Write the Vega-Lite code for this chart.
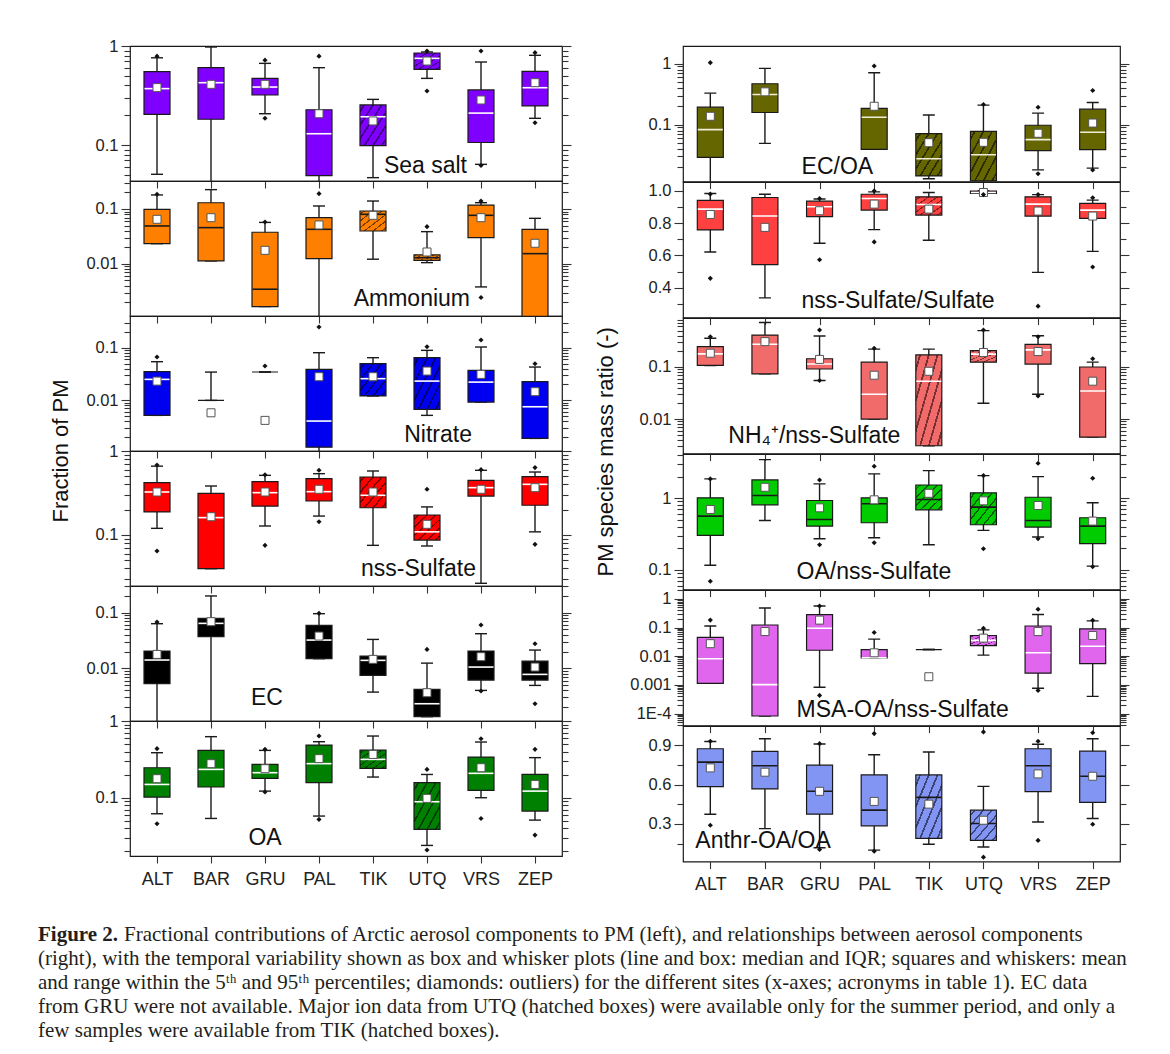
{
"$schema": "https://vega.github.io/schema/vega-lite/v6.json",
"background": "white",
"padding": {"left": 38, "top": 37, "right": 5, "bottom": 5},
"config": {
  "font": "Liberation Sans",
  "view": {"stroke": "#1a1a1a", "strokeWidth": 1.2},
  "axis": {"domain": false, "grid": false, "tickColor": "#333333", "tickWidth": 1.1, "labelColor": "#222222", "labelFontSize": 16.5, "labelFont": "Liberation Sans", "labelPadding": 3},
  "tick": {"opacity": 1},
  "point": {"opacity": 1}
},
"datasets": {
"box": [
{"p":"ss","s":"ALT","lo":0.0506,"q1":0.204,"md":0.371,"q3":0.55,"hi":0.76,"mn":0.38},
{"p":"ss","s":"BAR","lo":0.02,"q1":0.182,"md":0.426,"q3":0.604,"hi":0.977,"mn":0.41},
{"p":"ss","s":"GRU","lo":0.207,"q1":0.32,"md":0.385,"q3":0.471,"hi":0.668,"mn":0.41},
{"p":"ss","s":"PAL","lo":0.02,"q1":0.049,"md":0.13,"q3":0.227,"hi":0.604,"mn":0.207},
{"p":"ss","s":"TIK","lo":0.0468,"q1":0.0984,"md":0.193,"q3":0.254,"hi":0.289,"mn":0.175,"h":1},
{"p":"ss","s":"UTQ","lo":0.471,"q1":0.581,"md":0.75,"q3":0.85,"hi":0.87,"mn":0.705,"h":1},
{"p":"ss","s":"VRS","lo":0.0638,"q1":0.106,"md":0.21,"q3":0.36,"hi":0.689,"mn":0.285},
{"p":"ss","s":"ZEP","lo":0.186,"q1":0.248,"md":0.379,"q3":0.555,"hi":0.805,"mn":0.426},
{"p":"am","s":"ALT","lo":0.0234,"q1":0.0234,"md":0.0491,"q3":0.0986,"hi":0.18,"mn":0.0649},
{"p":"am","s":"BAR","lo":0.01135,"q1":0.01135,"md":0.0458,"q3":0.13,"hi":0.225,"mn":0.0695},
{"p":"am","s":"GRU","lo":0.00168,"q1":0.00168,"md":0.00347,"q3":0.0377,"hi":0.057,"mn":0.0177},
{"p":"am","s":"PAL","lo":0.0005,"q1":0.0125,"md":0.0427,"q3":0.0695,"hi":0.1134,"mn":0.0512},
{"p":"am","s":"TIK","lo":0.0122,"q1":0.0398,"md":0.08,"q3":0.092,"hi":0.1396,"mn":0.0767,"h":1},
{"p":"am","s":"UTQ","lo":0.01057,"q1":0.01166,"md":0.013,"q3":0.0146,"hi":0.0387,"mn":0.0165,"h":1},
{"p":"am","s":"VRS","lo":0.00382,"q1":0.0302,"md":0.0767,"q3":0.118,"hi":0.13,"mn":0.0695},
{"p":"am","s":"ZEP","lo":0.0005,"q1":0.0005,"md":0.0154,"q3":0.0427,"hi":0.0676,"mn":0.0238},
{"p":"ni","s":"ALT","lo":0.00518,"q1":0.00518,"md":0.025,"q3":0.035,"hi":0.0542,"mn":0.0232},
{"p":"ni","s":"BAR","lo":0.00997,"q1":0.00997,"md":null,"q3":0.00997,"hi":0.0344,"mn":0.0058},
{"p":"ni","s":"GRU","lo":0.0345,"q1":0.0345,"md":null,"q3":0.0345,"hi":0.0345,"mn":0.00416},
{"p":"ni","s":"PAL","lo":0.0005,"q1":0.00129,"md":0.00404,"q3":0.0387,"hi":0.0803,"mn":0.0281},
{"p":"ni","s":"TIK","lo":0.0121,"q1":0.0121,"md":0.0258,"q3":0.0497,"hi":0.0646,"mn":0.0281,"h":1},
{"p":"ni","s":"UTQ","lo":0.00518,"q1":0.00673,"md":0.0232,"q3":0.0646,"hi":0.089,"mn":0.036,"h":1},
{"p":"ni","s":"VRS","lo":0.00927,"q1":0.00927,"md":0.0222,"q3":0.037,"hi":0.103,"mn":0.0311},
{"p":"ni","s":"ZEP","lo":0.00189,"q1":0.00189,"md":0.00755,"q3":0.0226,"hi":0.0429,"mn":0.0146},
{"p":"su","s":"ALT","lo":0.12,"q1":0.188,"md":0.325,"q3":0.42,"hi":0.66,"mn":0.325},
{"p":"su","s":"BAR","lo":0.0397,"q1":0.0397,"md":0.161,"q3":0.313,"hi":0.383,"mn":0.165},
{"p":"su","s":"GRU","lo":0.128,"q1":0.221,"md":0.319,"q3":0.431,"hi":0.513,"mn":0.325},
{"p":"su","s":"PAL","lo":0.168,"q1":0.254,"md":0.328,"q3":0.469,"hi":0.537,"mn":0.35},
{"p":"su","s":"TIK","lo":0.0753,"q1":0.211,"md":0.297,"q3":0.49,"hi":0.578,"mn":0.325,"h":1},
{"p":"su","s":"UTQ","lo":0.074,"q1":0.0871,"md":0.109,"q3":0.173,"hi":0.216,"mn":0.134,"h":1},
{"p":"su","s":"VRS","lo":0.0266,"q1":0.291,"md":0.366,"q3":0.448,"hi":0.589,"mn":0.35},
{"p":"su","s":"ZEP","lo":0.109,"q1":0.226,"md":0.401,"q3":0.495,"hi":0.562,"mn":0.366},
{"p":"ec","s":"ALT","lo":0.0005,"q1":0.00529,"md":0.0141,"q3":0.0205,"hi":0.0634,"mn":0.0178},
{"p":"ec","s":"BAR","lo":0.0005,"q1":0.037,"md":0.0643,"q3":0.079,"hi":0.2,"mn":0.0689},
{"p":"ec","s":"PAL","lo":0.0149,"q1":0.0149,"md":0.0322,"q3":0.0591,"hi":0.096,"mn":0.038},
{"p":"ec","s":"TIK","lo":0.00374,"q1":0.00746,"md":0.0139,"q3":0.0166,"hi":0.0331,"mn":0.0145},
{"p":"ec","s":"UTQ","lo":0.00135,"q1":0.00135,"md":0.00231,"q3":0.00418,"hi":0.0124,"mn":0.00364},
{"p":"ec","s":"VRS","lo":0.00401,"q1":0.00615,"md":0.01054,"q3":0.0205,"hi":0.0419,"mn":0.0162},
{"p":"ec","s":"ZEP","lo":0.00493,"q1":0.00615,"md":0.00778,"q3":0.0135,"hi":0.0213,"mn":0.01054},
{"p":"oa","s":"ALT","lo":0.0618,"q1":0.102,"md":0.149,"q3":0.246,"hi":0.386,"mn":0.177},
{"p":"oa","s":"BAR","lo":0.0537,"q1":0.138,"md":0.234,"q3":0.414,"hi":0.625,"mn":0.278},
{"p":"oa","s":"GRU","lo":0.122,"q1":0.179,"md":0.212,"q3":0.272,"hi":0.414,"mn":0.239},
{"p":"oa","s":"PAL","lo":0.0577,"q1":0.157,"md":0.278,"q3":0.486,"hi":0.537,"mn":0.323},
{"p":"oa","s":"TIK","lo":0.186,"q1":0.241,"md":0.316,"q3":0.418,"hi":0.637,"mn":0.367,"h":1},
{"p":"oa","s":"UTQ","lo":0.0239,"q1":0.0386,"md":0.0887,"q3":0.157,"hi":0.201,"mn":0.098,"h":1},
{"p":"oa","s":"VRS","lo":0.1,"q1":0.125,"md":0.208,"q3":0.339,"hi":0.532,"mn":0.246},
{"p":"oa","s":"ZEP","lo":0.0511,"q1":0.067,"md":0.122,"q3":0.201,"hi":0.333,"mn":0.149},
{"p":"eo","s":"ALT","lo":0.005,"q1":0.029,"md":0.0827,"q3":0.193,"hi":0.328,"mn":0.137},
{"p":"eo","s":"BAR","lo":0.0492,"q1":0.158,"md":0.312,"q3":0.468,"hi":0.838,"mn":0.345},
{"p":"eo","s":"PAL","lo":0.0392,"q1":0.0392,"md":0.132,"q3":0.184,"hi":0.711,"mn":0.2},
{"p":"eo","s":"TIK","lo":0.0129,"q1":0.0144,"md":0.0275,"q3":0.0711,"hi":0.144,"mn":0.0505,"h":1},
{"p":"eo","s":"UTQ","lo":0.005,"q1":0.0119,"md":0.032,"q3":0.0776,"hi":0.209,"mn":0.0512,"h":1},
{"p":"eo","s":"VRS","lo":0.0181,"q1":0.0373,"md":0.0566,"q3":0.0975,"hi":0.154,"mn":0.072},
{"p":"eo","s":"ZEP","lo":0.0193,"q1":0.0387,"md":0.0748,"q3":0.179,"hi":0.231,"mn":0.106},
{"p":"sr","s":"ALT","lo":0.621,"q1":0.758,"md":0.887,"q3":0.941,"hi":0.984,"mn":0.854},
{"p":"sr","s":"BAR","lo":0.337,"q1":0.543,"md":0.844,"q3":0.959,"hi":0.979,"mn":0.774},
{"p":"sr","s":"GRU","lo":0.676,"q1":0.84,"md":0.902,"q3":0.936,"hi":0.95,"mn":0.877},
{"p":"sr","s":"PAL","lo":0.76,"q1":0.881,"md":0.953,"q3":0.979,"hi":0.994,"mn":0.918},
{"p":"sr","s":"TIK","lo":0.694,"q1":0.85,"md":0.916,"q3":0.963,"hi":0.99,"mn":0.887,"h":1},
{"p":"sr","s":"UTQ","lo":0.985,"q1":0.985,"md":0.99,"q3":0.998,"hi":1.0,"mn":0.99,"h":1},
{"p":"sr","s":"VRS","lo":0.495,"q1":0.844,"md":0.918,"q3":0.963,"hi":0.977,"mn":0.875},
{"p":"sr","s":"ZEP","lo":0.625,"q1":0.83,"md":0.881,"q3":0.922,"hi":0.943,"mn":0.844},
{"p":"nh","s":"ALT","lo":0.107,"q1":0.107,"md":0.179,"q3":0.247,"hi":0.356,"mn":0.184},
{"p":"nh","s":"BAR","lo":0.0736,"q1":0.0736,"md":0.273,"q3":0.411,"hi":0.715,"mn":0.307},
{"p":"nh","s":"GRU","lo":0.055,"q1":0.0916,"md":0.114,"q3":0.144,"hi":0.394,"mn":0.14},
{"p":"nh","s":"PAL","lo":0.01,"q1":0.01,"md":0.0299,"q3":0.124,"hi":0.22,"mn":0.0695},
{"p":"nh","s":"TIK","lo":0.00307,"q1":0.00307,"md":0.0534,"q3":0.171,"hi":0.22,"mn":0.0827,"h":1},
{"p":"nh","s":"UTQ","lo":0.0201,"q1":0.124,"md":0.177,"q3":0.207,"hi":0.5,"mn":0.19,"h":1},
{"p":"nh","s":"VRS","lo":0.0299,"q1":0.114,"md":0.213,"q3":0.273,"hi":0.399,"mn":0.198},
{"p":"nh","s":"ZEP","lo":0.00449,"q1":0.00449,"md":0.0345,"q3":0.1,"hi":0.124,"mn":0.0534},
{"p":"on","s":"ALT","lo":0.115,"q1":0.301,"md":0.561,"q3":1.01,"hi":1.86,"mn":0.695},
{"p":"on","s":"BAR","lo":0.488,"q1":0.807,"md":1.09,"q3":1.8,"hi":3.46,"mn":1.42},
{"p":"on","s":"GRU","lo":0.271,"q1":0.407,"md":0.504,"q3":0.928,"hi":1.585,"mn":0.733},
{"p":"on","s":"PAL","lo":0.28,"q1":0.453,"md":0.834,"q3":1.01,"hi":2.19,"mn":0.948},
{"p":"on","s":"TIK","lo":0.223,"q1":0.687,"md":0.958,"q3":1.53,"hi":2.43,"mn":1.17,"h":1},
{"p":"on","s":"UTQ","lo":0.354,"q1":0.425,"md":0.749,"q3":1.19,"hi":2.07,"mn":0.918,"h":1},
{"p":"on","s":"VRS","lo":0.286,"q1":0.394,"md":0.488,"q3":1.03,"hi":2.0,"mn":0.79},
{"p":"on","s":"ZEP","lo":0.112,"q1":0.231,"md":0.407,"q3":0.532,"hi":0.861,"mn":0.478},
{"p":"ms","s":"ALT","lo":0.00113,"q1":0.00113,"md":0.00815,"q3":0.045,"hi":0.113,"mn":0.0273},
{"p":"ms","s":"BAR","lo":0.000082,"q1":0.000082,"md":0.00102,"q3":0.122,"hi":0.479,"mn":0.0722},
{"p":"ms","s":"GRU","lo":0.000828,"q1":0.0161,"md":0.094,"q3":0.283,"hi":0.56,"mn":0.181},
{"p":"ms","s":"PAL","lo":0.0088,"q1":0.0088,"md":0.0088,"q3":0.017,"hi":0.0394,"mn":0.0131},
{"p":"ms","s":"TIK","lo":0.017,"q1":0.017,"md":null,"q3":0.017,"hi":0.017,"mn":0.00192},
{"p":"ms","s":"UTQ","lo":0.0109,"q1":0.0233,"md":0.0355,"q3":0.0527,"hi":0.0824,"mn":0.0426,"h":1},
{"p":"ms","s":"VRS","lo":0.000765,"q1":0.00256,"md":0.0131,"q3":0.113,"hi":0.283,"mn":0.0722},
{"p":"ms","s":"ZEP","lo":0.000396,"q1":0.0055,"md":0.0221,"q3":0.089,"hi":0.17,"mn":0.0527},
{"p":"an","s":"ALT","lo":0.374,"q1":0.585,"md":0.772,"q3":0.874,"hi":0.93,"mn":0.728},
{"p":"an","s":"BAR","lo":0.264,"q1":0.567,"md":0.744,"q3":0.854,"hi":0.951,"mn":0.695},
{"p":"an","s":"GRU","lo":0.118,"q1":0.374,"md":0.549,"q3":0.749,"hi":0.91,"mn":0.549},
{"p":"an","s":"PAL","lo":0.1,"q1":0.285,"md":0.405,"q3":0.674,"hi":0.828,"mn":0.472},
{"p":"an","s":"TIK","lo":0.144,"q1":0.19,"md":0.503,"q3":0.674,"hi":0.849,"mn":0.451,"h":1},
{"p":"an","s":"UTQ","lo":0.123,"q1":0.174,"md":0.303,"q3":0.405,"hi":0.587,"mn":0.328,"h":1},
{"p":"an","s":"VRS","lo":0.315,"q1":0.546,"md":0.744,"q3":0.874,"hi":0.908,"mn":0.682},
{"p":"an","s":"ZEP","lo":0.341,"q1":0.464,"md":0.664,"q3":0.856,"hi":0.951,"mn":0.664}
],
"out": [
{"p":"ss","s":"ALT","v":0.79},{"p":"ss","s":"GRU","v":0.72},{"p":"ss","s":"GRU","v":0.186},{"p":"ss","s":"PAL","v":0.79},{"p":"ss","s":"UTQ","v":0.89},{"p":"ss","s":"UTQ","v":0.351},{"p":"ss","s":"VRS","v":0.89},{"p":"ss","s":"VRS","v":0.062},{"p":"ss","s":"ZEP","v":0.857},{"p":"ss","s":"ZEP","v":0.168},
{"p":"am","s":"ALT","v":0.185},{"p":"am","s":"GRU","v":0.058},{"p":"am","s":"PAL","v":0.19},{"p":"am","s":"UTQ","v":0.0477},{"p":"am","s":"VRS","v":0.14},{"p":"am","s":"VRS","v":0.00245},
{"p":"ni","s":"ALT","v":0.0665},{"p":"ni","s":"GRU","v":0.0448},{"p":"ni","s":"PAL","v":0.247},{"p":"ni","s":"UTQ","v":0.1045},{"p":"ni","s":"VRS","v":0.14},{"p":"ni","s":"ZEP","v":0.0497},
{"p":"su","s":"ALT","v":0.681},{"p":"su","s":"ALT","v":0.0645},{"p":"su","s":"GRU","v":0.52},{"p":"su","s":"GRU","v":0.0753},{"p":"su","s":"PAL","v":0.589},{"p":"su","s":"PAL","v":0.144},{"p":"su","s":"UTQ","v":0.35},{"p":"su","s":"VRS","v":0.6},{"p":"su","s":"ZEP","v":0.634},{"p":"su","s":"ZEP","v":0.0774},
{"p":"ec","s":"ALT","v":0.068},{"p":"ec","s":"PAL","v":0.0973},{"p":"ec","s":"UTQ","v":0.0219},{"p":"ec","s":"VRS","v":0.06},{"p":"ec","s":"VRS","v":0.0039},{"p":"ec","s":"ZEP","v":0.0277},{"p":"ec","s":"ZEP","v":0.00231},
{"p":"oa","s":"ALT","v":0.436},{"p":"oa","s":"ALT","v":0.0458},{"p":"oa","s":"GRU","v":0.427},{"p":"oa","s":"GRU","v":0.119},{"p":"oa","s":"PAL","v":0.637},{"p":"oa","s":"PAL","v":0.0522},{"p":"oa","s":"UTQ","v":0.234},{"p":"oa","s":"UTQ","v":0.0208},{"p":"oa","s":"VRS","v":0.588},{"p":"oa","s":"VRS","v":0.0537},{"p":"oa","s":"ZEP","v":0.427},{"p":"oa","s":"ZEP","v":0.0326},
{"p":"eo","s":"ALT","v":1.04},{"p":"eo","s":"PAL","v":0.915},{"p":"eo","s":"UTQ","v":0.214},{"p":"eo","s":"VRS","v":0.193},{"p":"eo","s":"VRS","v":0.0156},{"p":"eo","s":"ZEP","v":0.363},{"p":"eo","s":"ZEP","v":0.018},
{"p":"sr","s":"ALT","v":0.98},{"p":"sr","s":"ALT","v":0.458},{"p":"sr","s":"GRU","v":0.953},{"p":"sr","s":"GRU","v":0.573},{"p":"sr","s":"PAL","v":1.0},{"p":"sr","s":"PAL","v":0.684},{"p":"sr","s":"UTQ","v":0.977},{"p":"sr","s":"VRS","v":0.977},{"p":"sr","s":"VRS","v":0.286},{"p":"sr","s":"ZEP","v":0.957},{"p":"sr","s":"ZEP","v":0.528},
{"p":"nh","s":"ALT","v":0.382},{"p":"nh","s":"GRU","v":0.512},{"p":"nh","s":"GRU","v":0.055},{"p":"nh","s":"PAL","v":0.229},{"p":"nh","s":"UTQ","v":0.512},{"p":"nh","s":"VRS","v":0.382},{"p":"nh","s":"VRS","v":0.0277},{"p":"nh","s":"ZEP","v":0.144},
{"p":"on","s":"ALT","v":1.86},{"p":"on","s":"ALT","v":0.0687},{"p":"on","s":"GRU","v":1.8},{"p":"on","s":"GRU","v":0.223},{"p":"on","s":"PAL","v":2.8},{"p":"on","s":"PAL","v":0.238},{"p":"on","s":"UTQ","v":2.07},{"p":"on","s":"UTQ","v":0.196},{"p":"on","s":"VRS","v":3.08},{"p":"on","s":"VRS","v":0.27},{"p":"on","s":"ZEP","v":1.9},{"p":"on","s":"ZEP","v":0.11},
{"p":"ms","s":"ALT","v":0.181},{"p":"ms","s":"GRU","v":0.56},{"p":"ms","s":"GRU","v":0.000429},{"p":"ms","s":"PAL","v":0.0667},{"p":"ms","s":"UTQ","v":0.094},{"p":"ms","s":"VRS","v":0.431},{"p":"ms","s":"VRS","v":0.000637},{"p":"ms","s":"ZEP","v":0.18},
{"p":"an","s":"ALT","v":0.931},{"p":"an","s":"ALT","v":0.29},{"p":"an","s":"GRU","v":0.913},{"p":"an","s":"GRU","v":0.105},{"p":"an","s":"PAL","v":0.99},{"p":"an","s":"PAL","v":0.092},{"p":"an","s":"UTQ","v":1.003},{"p":"an","s":"UTQ","v":0.046},{"p":"an","s":"VRS","v":0.931},{"p":"an","s":"VRS","v":0.174},{"p":"an","s":"ZEP","v":0.997},{"p":"an","s":"ZEP","v":0.297}
],
"lab": [
{"p":"ss","t":"Sea salt"},{"p":"am","t":"Ammonium"},{"p":"ni","t":"Nitrate"},{"p":"su","t":"nss-Sulfate"},{"p":"ec","t":"EC"},{"p":"oa","t":"OA"},
{"p":"eo","t":"EC/OA"},{"p":"sr","t":"nss-Sulfate/Sulfate"},{"p":"nh","t":"NH₄⁺/nss-Sulfate"},{"p":"on","t":"OA/nss-Sulfate"},{"p":"ms","t":"MSA-OA/nss-Sulfate"},{"p":"an","t":"Anthr-OA/OA"}
],
"cap": [
{"l":1,"k":"b","t":"Figure 2."},
{"l":1,"k":"f","t":"Fractional contributions of Arctic aerosol components to PM (left), and relationships between aerosol components"},
{"l":2,"k":"n","t":"(right), with the temporal variability shown as box and whisker plots (line and box: median and IQR; squares and whiskers: mean"},
{"l":3,"k":"n","t":"and range within the 5ᵗʰ and 95ᵗʰ percentiles; diamonds: outliers) for the different sites (x-axes; acronyms in table 1). EC data"},
{"l":4,"k":"n","t":"from GRU were not available. Major ion data from UTQ (hatched boxes) were available only for the summer period, and only a"},
{"l":5,"k":"n","t":"few samples were available from TIK (hatched boxes)."}
]
},
"vconcat": [
{
"hconcat": [
{
"title": {"text": "Fraction of PM", "orient": "left", "anchor": "middle", "fontSize": 22, "fontWeight": "normal", "font": "Liberation Sans", "color": "#111111", "offset": 12, "dx": 12},
"spacing": 0,
"bounds": "flush",
"vconcat": [
{"width": 432, "height": 135, "data": {"name": "box"}, "transform": [{"filter": "datum.p == 'ss'"}],
 "layer": [
  {"mark": {"type": "rule", "clip": true, "color": "#1a1a1a", "strokeWidth": 1.4},
   "encoding": {"x": {"field": "s", "type": "nominal", "scale": {"type": "point", "domain": ["ALT","BAR","GRU","PAL","TIK","UTQ","VRS","ZEP"], "padding": 0.5}, "axis": {"labels": false, "tickSize": 7, "title": null}},
    "y": {"field": "lo", "type": "quantitative", "scale": {"type": "log", "domain": [0.0433, 1], "nice": false}, "axis": {"orient": "left", "values": [0.1, 1], "format": "~g", "tickSize": 9, "title": null}},
    "y2": {"field": "hi"}}},
  {"transform": [{"fold": ["lo", "hi"], "as": ["k", "v"]}], "mark": {"type": "tick", "clip": true, "color": "#1a1a1a", "thickness": 1.4, "size": 12},
   "encoding": {"x": {"field": "s", "type": "nominal", "axis": null}, "y": {"field": "v", "type": "quantitative", "axis": null}}},
  {"mark": {"type": "bar", "clip": true, "size": 26, "stroke": "#1a1a1a", "strokeWidth": 1.2},
   "encoding": {"x": {"field": "s", "type": "nominal", "axis": null},
    "y": {"field": "q1", "type": "quantitative", "axis": {"orient": "left", "values": [0.05,0.06,0.07,0.08,0.09,0.2,0.3,0.4,0.5,0.6,0.7,0.8,0.9], "labels": false, "tickSize": 6, "title": null}}, "y2": {"field": "q3"},
    "fill": {"condition": {"test": "datum.h == 1", "value": {"gradient":"linear","x1":0,"y1":0,"x2":1,"y2":1,"stops":[{"offset":0,"color":"#8000ff"},{"offset":0.065,"color":"#8000ff"},{"offset":0.065,"color":"#3d0080"},{"offset":0.101,"color":"#3d0080"},{"offset":0.101,"color":"#8000ff"},{"offset":0.232,"color":"#8000ff"},{"offset":0.232,"color":"#3d0080"},{"offset":0.268,"color":"#3d0080"},{"offset":0.268,"color":"#8000ff"},{"offset":0.399,"color":"#8000ff"},{"offset":0.399,"color":"#3d0080"},{"offset":0.435,"color":"#3d0080"},{"offset":0.435,"color":"#8000ff"},{"offset":0.565,"color":"#8000ff"},{"offset":0.565,"color":"#3d0080"},{"offset":0.601,"color":"#3d0080"},{"offset":0.601,"color":"#8000ff"},{"offset":0.732,"color":"#8000ff"},{"offset":0.732,"color":"#3d0080"},{"offset":0.768,"color":"#3d0080"},{"offset":0.768,"color":"#8000ff"},{"offset":0.899,"color":"#8000ff"},{"offset":0.899,"color":"#3d0080"},{"offset":0.935,"color":"#3d0080"},{"offset":0.935,"color":"#8000ff"},{"offset":1,"color":"#8000ff"}]}}, "value": "#8000ff"}}},
  {"mark": {"type": "tick", "clip": true, "color": "#ffffff", "thickness": 1.6, "size": 25},
   "encoding": {"x": {"field": "s", "type": "nominal", "axis": null}, "y": {"field": "md", "type": "quantitative", "axis": {"orient": "right", "values": [0.1, 1], "labels": false, "tickSize": 9, "title": null}}}},
  {"mark": {"type": "point", "clip": true, "shape": "square", "size": 64, "filled": true, "fill": "#ffffff", "stroke": "#555555", "strokeWidth": 1},
   "encoding": {"x": {"field": "s", "type": "nominal", "axis": null}, "y": {"field": "mn", "type": "quantitative", "axis": {"orient": "right", "values": [0.05,0.06,0.07,0.08,0.09,0.2,0.3,0.4,0.5,0.6,0.7,0.8,0.9], "labels": false, "tickSize": 6, "title": null}}}},
  {"data": {"name": "out"}, "transform": [{"filter": "datum.p == 'ss'"}], "mark": {"type": "point", "clip": true, "shape": "diamond", "size": 26, "filled": true, "color": "#111111"},
   "encoding": {"x": {"field": "s", "type": "nominal", "axis": null}, "y": {"field": "v", "type": "quantitative", "axis": null}}},
  {"data": {"name": "lab"}, "transform": [{"filter": "datum.p == 'ss'"}], "mark": {"type": "text", "align": "right", "baseline": "middle", "fontSize": 23, "dx": 40, "color": "#111111"},
   "encoding": {"x": {"datum": "UTQ", "type": "nominal", "axis": null}, "y": {"datum": 0.0614, "type": "quantitative", "axis": null}, "text": {"field": "t"}}}
 ],
 "resolve": {"axis": {"x": "independent", "y": "independent"}}},

{"width": 432, "height": 135, "data": {"name": "box"}, "transform": [{"filter": "datum.p == 'am'"}],
 "layer": [
  {"mark": {"type": "rule", "clip": true, "color": "#1a1a1a", "strokeWidth": 1.4},
   "encoding": {"x": {"field": "s", "type": "nominal", "scale": {"type": "point", "domain": ["ALT","BAR","GRU","PAL","TIK","UTQ","VRS","ZEP"], "padding": 0.5}, "axis": {"labels": false, "tickSize": 7, "title": null}},
    "y": {"field": "lo", "type": "quantitative", "scale": {"type": "log", "domain": [0.00113, 0.323], "nice": false}, "axis": {"orient": "left", "values": [0.01, 0.1], "format": "~g", "tickSize": 9, "title": null}},
    "y2": {"field": "hi"}}},
  {"transform": [{"fold": ["lo", "hi"], "as": ["k", "v"]}], "mark": {"type": "tick", "clip": true, "color": "#1a1a1a", "thickness": 1.4, "size": 12},
   "encoding": {"x": {"field": "s", "type": "nominal", "axis": null}, "y": {"field": "v", "type": "quantitative", "axis": null}}},
  {"mark": {"type": "bar", "clip": true, "size": 26, "stroke": "#1a1a1a", "strokeWidth": 1.2},
   "encoding": {"x": {"field": "s", "type": "nominal", "axis": null},
    "y": {"field": "q1", "type": "quantitative", "axis": {"orient": "left", "values": [0.002,0.003,0.004,0.005,0.006,0.007,0.008,0.009,0.02,0.03,0.04,0.05,0.06,0.07,0.08,0.09,0.2,0.3], "labels": false, "tickSize": 6, "title": null}}, "y2": {"field": "q3"},
    "fill": {"condition": {"test": "datum.h == 1", "value": {"gradient":"linear","x1":0,"y1":0,"x2":1,"y2":1,"stops":[{"offset":0,"color":"#ff8000"},{"offset":0.065,"color":"#ff8000"},{"offset":0.065,"color":"#7a3d00"},{"offset":0.101,"color":"#7a3d00"},{"offset":0.101,"color":"#ff8000"},{"offset":0.232,"color":"#ff8000"},{"offset":0.232,"color":"#7a3d00"},{"offset":0.268,"color":"#7a3d00"},{"offset":0.268,"color":"#ff8000"},{"offset":0.399,"color":"#ff8000"},{"offset":0.399,"color":"#7a3d00"},{"offset":0.435,"color":"#7a3d00"},{"offset":0.435,"color":"#ff8000"},{"offset":0.565,"color":"#ff8000"},{"offset":0.565,"color":"#7a3d00"},{"offset":0.601,"color":"#7a3d00"},{"offset":0.601,"color":"#ff8000"},{"offset":0.732,"color":"#ff8000"},{"offset":0.732,"color":"#7a3d00"},{"offset":0.768,"color":"#7a3d00"},{"offset":0.768,"color":"#ff8000"},{"offset":0.899,"color":"#ff8000"},{"offset":0.899,"color":"#7a3d00"},{"offset":0.935,"color":"#7a3d00"},{"offset":0.935,"color":"#ff8000"},{"offset":1,"color":"#ff8000"}]}}, "value": "#ff8000"}}},
  {"mark": {"type": "tick", "clip": true, "color": "#1a1a1a", "thickness": 1.6, "size": 25},
   "encoding": {"x": {"field": "s", "type": "nominal", "axis": null}, "y": {"field": "md", "type": "quantitative", "axis": {"orient": "right", "values": [0.01, 0.1], "labels": false, "tickSize": 9, "title": null}}}},
  {"mark": {"type": "point", "clip": true, "shape": "square", "size": 64, "filled": true, "fill": "#ffffff", "stroke": "#555555", "strokeWidth": 1},
   "encoding": {"x": {"field": "s", "type": "nominal", "axis": null}, "y": {"field": "mn", "type": "quantitative", "axis": {"orient": "right", "values": [0.002,0.003,0.004,0.005,0.006,0.007,0.008,0.009,0.02,0.03,0.04,0.05,0.06,0.07,0.08,0.09,0.2,0.3], "labels": false, "tickSize": 6, "title": null}}}},
  {"data": {"name": "out"}, "transform": [{"filter": "datum.p == 'am'"}], "mark": {"type": "point", "clip": true, "shape": "diamond", "size": 26, "filled": true, "color": "#111111"},
   "encoding": {"x": {"field": "s", "type": "nominal", "axis": null}, "y": {"field": "v", "type": "quantitative", "axis": null}}},
  {"data": {"name": "lab"}, "transform": [{"filter": "datum.p == 'am'"}], "mark": {"type": "text", "align": "right", "baseline": "middle", "fontSize": 23, "dx": 43, "color": "#111111"},
   "encoding": {"x": {"datum": "UTQ", "type": "nominal", "axis": null}, "y": {"datum": 0.00231, "type": "quantitative", "axis": null}, "text": {"field": "t"}}}
 ],
 "resolve": {"axis": {"x": "independent", "y": "independent"}}},

{"width": 432, "height": 135, "data": {"name": "box"}, "transform": [{"filter": "datum.p == 'ni'"}],
 "layer": [
  {"mark": {"type": "rule", "clip": true, "color": "#1a1a1a", "strokeWidth": 1.4},
   "encoding": {"x": {"field": "s", "type": "nominal", "scale": {"type": "point", "domain": ["ALT","BAR","GRU","PAL","TIK","UTQ","VRS","ZEP"], "padding": 0.5}, "axis": {"labels": false, "tickSize": 7, "title": null}},
    "y": {"field": "lo", "type": "quantitative", "scale": {"type": "log", "domain": [0.00109, 0.40], "nice": false}, "axis": {"orient": "left", "values": [0.01, 0.1], "format": "~g", "tickSize": 9, "title": null}},
    "y2": {"field": "hi"}}},
  {"transform": [{"fold": ["lo", "hi"], "as": ["k", "v"]}], "mark": {"type": "tick", "clip": true, "color": "#1a1a1a", "thickness": 1.4, "size": 12},
   "encoding": {"x": {"field": "s", "type": "nominal", "axis": null}, "y": {"field": "v", "type": "quantitative", "axis": null}}},
  {"mark": {"type": "bar", "clip": true, "size": 26, "stroke": "#1a1a1a", "strokeWidth": 1.2},
   "encoding": {"x": {"field": "s", "type": "nominal", "axis": null},
    "y": {"field": "q1", "type": "quantitative", "axis": {"orient": "left", "values": [0.002,0.003,0.004,0.005,0.006,0.007,0.008,0.009,0.02,0.03,0.04,0.05,0.06,0.07,0.08,0.09,0.2,0.3], "labels": false, "tickSize": 6, "title": null}}, "y2": {"field": "q3"},
    "fill": {"condition": {"test": "datum.h == 1", "value": {"gradient":"linear","x1":0,"y1":0,"x2":1,"y2":1,"stops":[{"offset":0,"color":"#0000f0"},{"offset":0.065,"color":"#0000f0"},{"offset":0.065,"color":"#000070"},{"offset":0.101,"color":"#000070"},{"offset":0.101,"color":"#0000f0"},{"offset":0.232,"color":"#0000f0"},{"offset":0.232,"color":"#000070"},{"offset":0.268,"color":"#000070"},{"offset":0.268,"color":"#0000f0"},{"offset":0.399,"color":"#0000f0"},{"offset":0.399,"color":"#000070"},{"offset":0.435,"color":"#000070"},{"offset":0.435,"color":"#0000f0"},{"offset":0.565,"color":"#0000f0"},{"offset":0.565,"color":"#000070"},{"offset":0.601,"color":"#000070"},{"offset":0.601,"color":"#0000f0"},{"offset":0.732,"color":"#0000f0"},{"offset":0.732,"color":"#000070"},{"offset":0.768,"color":"#000070"},{"offset":0.768,"color":"#0000f0"},{"offset":0.899,"color":"#0000f0"},{"offset":0.899,"color":"#000070"},{"offset":0.935,"color":"#000070"},{"offset":0.935,"color":"#0000f0"},{"offset":1,"color":"#0000f0"}]}}, "value": "#0000f0"}}},
  {"mark": {"type": "tick", "clip": true, "color": "#ffffff", "thickness": 1.6, "size": 25},
   "encoding": {"x": {"field": "s", "type": "nominal", "axis": null}, "y": {"field": "md", "type": "quantitative", "axis": {"orient": "right", "values": [0.01, 0.1], "labels": false, "tickSize": 9, "title": null}}}},
  {"mark": {"type": "point", "clip": true, "shape": "square", "size": 64, "filled": true, "fill": "#ffffff", "stroke": "#555555", "strokeWidth": 1},
   "encoding": {"x": {"field": "s", "type": "nominal", "axis": null}, "y": {"field": "mn", "type": "quantitative", "axis": {"orient": "right", "values": [0.002,0.003,0.004,0.005,0.006,0.007,0.008,0.009,0.02,0.03,0.04,0.05,0.06,0.07,0.08,0.09,0.2,0.3], "labels": false, "tickSize": 6, "title": null}}}},
  {"data": {"name": "out"}, "transform": [{"filter": "datum.p == 'ni'"}], "mark": {"type": "point", "clip": true, "shape": "diamond", "size": 26, "filled": true, "color": "#111111"},
   "encoding": {"x": {"field": "s", "type": "nominal", "axis": null}, "y": {"field": "v", "type": "quantitative", "axis": null}}},
  {"data": {"name": "lab"}, "transform": [{"filter": "datum.p == 'ni'"}], "mark": {"type": "text", "align": "right", "baseline": "middle", "fontSize": 23, "dx": 45, "color": "#111111"},
   "encoding": {"x": {"datum": "UTQ", "type": "nominal", "axis": null}, "y": {"datum": 0.00219, "type": "quantitative", "axis": null}, "text": {"field": "t"}}}
 ],
 "resolve": {"axis": {"x": "independent", "y": "independent"}}},

{"width": 432, "height": 135, "data": {"name": "box"}, "transform": [{"filter": "datum.p == 'su'"}],
 "layer": [
  {"mark": {"type": "rule", "clip": true, "color": "#1a1a1a", "strokeWidth": 1.4},
   "encoding": {"x": {"field": "s", "type": "nominal", "scale": {"type": "point", "domain": ["ALT","BAR","GRU","PAL","TIK","UTQ","VRS","ZEP"], "padding": 0.5}, "axis": {"labels": false, "tickSize": 7, "title": null}},
    "y": {"field": "lo", "type": "quantitative", "scale": {"type": "log", "domain": [0.0247, 1], "nice": false}, "axis": {"orient": "left", "values": [0.1, 1], "format": "~g", "tickSize": 9, "title": null}},
    "y2": {"field": "hi"}}},
  {"transform": [{"fold": ["lo", "hi"], "as": ["k", "v"]}], "mark": {"type": "tick", "clip": true, "color": "#1a1a1a", "thickness": 1.4, "size": 12},
   "encoding": {"x": {"field": "s", "type": "nominal", "axis": null}, "y": {"field": "v", "type": "quantitative", "axis": null}}},
  {"mark": {"type": "bar", "clip": true, "size": 26, "stroke": "#1a1a1a", "strokeWidth": 1.2},
   "encoding": {"x": {"field": "s", "type": "nominal", "axis": null},
    "y": {"field": "q1", "type": "quantitative", "axis": {"orient": "left", "values": [0.03,0.04,0.05,0.06,0.07,0.08,0.09,0.2,0.3,0.4,0.5,0.6,0.7,0.8,0.9], "labels": false, "tickSize": 6, "title": null}}, "y2": {"field": "q3"},
    "fill": {"condition": {"test": "datum.h == 1", "value": {"gradient":"linear","x1":0,"y1":0,"x2":1,"y2":1,"stops":[{"offset":0,"color":"#ff0000"},{"offset":0.065,"color":"#ff0000"},{"offset":0.065,"color":"#7a0000"},{"offset":0.101,"color":"#7a0000"},{"offset":0.101,"color":"#ff0000"},{"offset":0.232,"color":"#ff0000"},{"offset":0.232,"color":"#7a0000"},{"offset":0.268,"color":"#7a0000"},{"offset":0.268,"color":"#ff0000"},{"offset":0.399,"color":"#ff0000"},{"offset":0.399,"color":"#7a0000"},{"offset":0.435,"color":"#7a0000"},{"offset":0.435,"color":"#ff0000"},{"offset":0.565,"color":"#ff0000"},{"offset":0.565,"color":"#7a0000"},{"offset":0.601,"color":"#7a0000"},{"offset":0.601,"color":"#ff0000"},{"offset":0.732,"color":"#ff0000"},{"offset":0.732,"color":"#7a0000"},{"offset":0.768,"color":"#7a0000"},{"offset":0.768,"color":"#ff0000"},{"offset":0.899,"color":"#ff0000"},{"offset":0.899,"color":"#7a0000"},{"offset":0.935,"color":"#7a0000"},{"offset":0.935,"color":"#ff0000"},{"offset":1,"color":"#ff0000"}]}}, "value": "#ff0000"}}},
  {"mark": {"type": "tick", "clip": true, "color": "#ffffff", "thickness": 1.6, "size": 25},
   "encoding": {"x": {"field": "s", "type": "nominal", "axis": null}, "y": {"field": "md", "type": "quantitative", "axis": {"orient": "right", "values": [0.1, 1], "labels": false, "tickSize": 9, "title": null}}}},
  {"mark": {"type": "point", "clip": true, "shape": "square", "size": 64, "filled": true, "fill": "#ffffff", "stroke": "#555555", "strokeWidth": 1},
   "encoding": {"x": {"field": "s", "type": "nominal", "axis": null}, "y": {"field": "mn", "type": "quantitative", "axis": {"orient": "right", "values": [0.03,0.04,0.05,0.06,0.07,0.08,0.09,0.2,0.3,0.4,0.5,0.6,0.7,0.8,0.9], "labels": false, "tickSize": 6, "title": null}}}},
  {"data": {"name": "out"}, "transform": [{"filter": "datum.p == 'su'"}], "mark": {"type": "point", "clip": true, "shape": "diamond", "size": 26, "filled": true, "color": "#111111"},
   "encoding": {"x": {"field": "s", "type": "nominal", "axis": null}, "y": {"field": "v", "type": "quantitative", "axis": null}}},
  {"data": {"name": "lab"}, "transform": [{"filter": "datum.p == 'su'"}], "mark": {"type": "text", "align": "right", "baseline": "middle", "fontSize": 23, "dx": 49, "color": "#111111"},
   "encoding": {"x": {"datum": "UTQ", "type": "nominal", "axis": null}, "y": {"datum": 0.0394, "type": "quantitative", "axis": null}, "text": {"field": "t"}}}
 ],
 "resolve": {"axis": {"x": "independent", "y": "independent"}}},

{"width": 432, "height": 135, "data": {"name": "box"}, "transform": [{"filter": "datum.p == 'ec'"}],
 "layer": [
  {"mark": {"type": "rule", "clip": true, "color": "#1a1a1a", "strokeWidth": 1.4},
   "encoding": {"x": {"field": "s", "type": "nominal", "scale": {"type": "point", "domain": ["ALT","BAR","GRU","PAL","TIK","UTQ","VRS","ZEP"], "padding": 0.5}, "axis": {"labels": false, "tickSize": 7, "title": null}},
    "y": {"field": "lo", "type": "quantitative", "scale": {"type": "log", "domain": [0.00113, 0.302], "nice": false}, "axis": {"orient": "left", "values": [0.01, 0.1], "format": "~g", "tickSize": 9, "title": null}},
    "y2": {"field": "hi"}}},
  {"transform": [{"fold": ["lo", "hi"], "as": ["k", "v"]}], "mark": {"type": "tick", "clip": true, "color": "#1a1a1a", "thickness": 1.4, "size": 12},
   "encoding": {"x": {"field": "s", "type": "nominal", "axis": null}, "y": {"field": "v", "type": "quantitative", "axis": null}}},
  {"mark": {"type": "bar", "clip": true, "size": 26, "stroke": "#1a1a1a", "strokeWidth": 1.2, "fill": "#000000"},
   "encoding": {"x": {"field": "s", "type": "nominal", "axis": null},
    "y": {"field": "q1", "type": "quantitative", "axis": {"orient": "left", "values": [0.002,0.003,0.004,0.005,0.006,0.007,0.008,0.009,0.02,0.03,0.04,0.05,0.06,0.07,0.08,0.09,0.2,0.3], "labels": false, "tickSize": 6, "title": null}}, "y2": {"field": "q3"}}},
  {"mark": {"type": "tick", "clip": true, "color": "#ffffff", "thickness": 1.6, "size": 25},
   "encoding": {"x": {"field": "s", "type": "nominal", "axis": null}, "y": {"field": "md", "type": "quantitative", "axis": {"orient": "right", "values": [0.01, 0.1], "labels": false, "tickSize": 9, "title": null}}}},
  {"mark": {"type": "point", "clip": true, "shape": "square", "size": 64, "filled": true, "fill": "#ffffff", "stroke": "#555555", "strokeWidth": 1},
   "encoding": {"x": {"field": "s", "type": "nominal", "axis": null}, "y": {"field": "mn", "type": "quantitative", "axis": {"orient": "right", "values": [0.002,0.003,0.004,0.005,0.006,0.007,0.008,0.009,0.02,0.03,0.04,0.05,0.06,0.07,0.08,0.09,0.2,0.3], "labels": false, "tickSize": 6, "title": null}}}},
  {"data": {"name": "out"}, "transform": [{"filter": "datum.p == 'ec'"}], "mark": {"type": "point", "clip": true, "shape": "diamond", "size": 26, "filled": true, "color": "#111111"},
   "encoding": {"x": {"field": "s", "type": "nominal", "axis": null}, "y": {"field": "v", "type": "quantitative", "axis": null}}},
  {"data": {"name": "lab"}, "transform": [{"filter": "datum.p == 'ec'"}], "mark": {"type": "text", "align": "center", "baseline": "middle", "fontSize": 23, "dx": 2, "color": "#111111"},
   "encoding": {"x": {"datum": "GRU", "type": "nominal", "axis": null}, "y": {"datum": 0.00292, "type": "quantitative", "axis": null}, "text": {"field": "t"}}}
 ],
 "resolve": {"axis": {"x": "independent", "y": "independent"}}},

{"width": 432, "height": 135, "data": {"name": "box"}, "transform": [{"filter": "datum.p == 'oa'"}],
 "layer": [
  {"mark": {"type": "rule", "clip": true, "color": "#1a1a1a", "strokeWidth": 1.4},
   "encoding": {"x": {"field": "s", "type": "nominal", "scale": {"type": "point", "domain": ["ALT","BAR","GRU","PAL","TIK","UTQ","VRS","ZEP"], "padding": 0.5}, "axis": {"labels": true, "tickSize": 7, "labelFontSize": 18, "labelPadding": 7, "labelAngle": 0, "title": null}},
    "y": {"field": "lo", "type": "quantitative", "scale": {"type": "log", "domain": [0.0174, 1], "nice": false}, "axis": {"orient": "left", "values": [0.1, 1], "format": "~g", "tickSize": 9, "title": null}},
    "y2": {"field": "hi"}}},
  {"transform": [{"fold": ["lo", "hi"], "as": ["k", "v"]}], "mark": {"type": "tick", "clip": true, "color": "#1a1a1a", "thickness": 1.4, "size": 12},
   "encoding": {"x": {"field": "s", "type": "nominal", "axis": null}, "y": {"field": "v", "type": "quantitative", "axis": null}}},
  {"mark": {"type": "bar", "clip": true, "size": 26, "stroke": "#1a1a1a", "strokeWidth": 1.2},
   "encoding": {"x": {"field": "s", "type": "nominal", "axis": null},
    "y": {"field": "q1", "type": "quantitative", "axis": {"orient": "left", "values": [0.02,0.03,0.04,0.05,0.06,0.07,0.08,0.09,0.2,0.3,0.4,0.5,0.6,0.7,0.8,0.9], "labels": false, "tickSize": 6, "title": null}}, "y2": {"field": "q3"},
    "fill": {"condition": {"test": "datum.h == 1", "value": {"gradient":"linear","x1":0,"y1":0,"x2":1,"y2":1,"stops":[{"offset":0,"color":"#008000"},{"offset":0.065,"color":"#008000"},{"offset":0.065,"color":"#003d00"},{"offset":0.101,"color":"#003d00"},{"offset":0.101,"color":"#008000"},{"offset":0.232,"color":"#008000"},{"offset":0.232,"color":"#003d00"},{"offset":0.268,"color":"#003d00"},{"offset":0.268,"color":"#008000"},{"offset":0.399,"color":"#008000"},{"offset":0.399,"color":"#003d00"},{"offset":0.435,"color":"#003d00"},{"offset":0.435,"color":"#008000"},{"offset":0.565,"color":"#008000"},{"offset":0.565,"color":"#003d00"},{"offset":0.601,"color":"#003d00"},{"offset":0.601,"color":"#008000"},{"offset":0.732,"color":"#008000"},{"offset":0.732,"color":"#003d00"},{"offset":0.768,"color":"#003d00"},{"offset":0.768,"color":"#008000"},{"offset":0.899,"color":"#008000"},{"offset":0.899,"color":"#003d00"},{"offset":0.935,"color":"#003d00"},{"offset":0.935,"color":"#008000"},{"offset":1,"color":"#008000"}]}}, "value": "#008000"}}},
  {"mark": {"type": "tick", "clip": true, "color": "#ffffff", "thickness": 1.6, "size": 25},
   "encoding": {"x": {"field": "s", "type": "nominal", "axis": null}, "y": {"field": "md", "type": "quantitative", "axis": {"orient": "right", "values": [0.1, 1], "labels": false, "tickSize": 9, "title": null}}}},
  {"mark": {"type": "point", "clip": true, "shape": "square", "size": 64, "filled": true, "fill": "#ffffff", "stroke": "#555555", "strokeWidth": 1},
   "encoding": {"x": {"field": "s", "type": "nominal", "axis": null}, "y": {"field": "mn", "type": "quantitative", "axis": {"orient": "right", "values": [0.02,0.03,0.04,0.05,0.06,0.07,0.08,0.09,0.2,0.3,0.4,0.5,0.6,0.7,0.8,0.9], "labels": false, "tickSize": 6, "title": null}}}},
  {"data": {"name": "out"}, "transform": [{"filter": "datum.p == 'oa'"}], "mark": {"type": "point", "clip": true, "shape": "diamond", "size": 26, "filled": true, "color": "#111111"},
   "encoding": {"x": {"field": "s", "type": "nominal", "axis": null}, "y": {"field": "v", "type": "quantitative", "axis": null}}},
  {"data": {"name": "lab"}, "transform": [{"filter": "datum.p == 'oa'"}], "mark": {"type": "text", "align": "center", "baseline": "middle", "fontSize": 23, "dx": 0, "color": "#111111"},
   "encoding": {"x": {"datum": "GRU", "type": "nominal", "axis": null}, "y": {"datum": 0.0298, "type": "quantitative", "axis": null}, "text": {"field": "t"}}}
 ],
 "resolve": {"axis": {"x": "independent", "y": "independent"}}}
]
},
{
"title": {"text": "PM species mass ratio (-)", "orient": "left", "anchor": "middle", "fontSize": 22, "fontWeight": "normal", "font": "Liberation Sans", "color": "#111111", "offset": 11, "dx": 18},
"spacing": 0,
"bounds": "flush",
"vconcat": [
{"width": 437, "height": 135.6, "data": {"name": "box"}, "transform": [{"filter": "datum.p == 'eo'"}],
 "layer": [
  {"mark": {"type": "rule", "clip": true, "color": "#1a1a1a", "strokeWidth": 1.4},
   "encoding": {"x": {"field": "s", "type": "nominal", "scale": {"type": "point", "domain": ["ALT","BAR","GRU","PAL","TIK","UTQ","VRS","ZEP"], "padding": 0.5}, "axis": {"labels": false, "tickSize": 7, "title": null}},
    "y": {"field": "lo", "type": "quantitative", "scale": {"type": "log", "domain": [0.0116, 1.95], "nice": false}, "axis": {"orient": "left", "values": [0.1, 1], "format": "~g", "tickSize": 9, "title": null}},
    "y2": {"field": "hi"}}},
  {"transform": [{"fold": ["lo", "hi"], "as": ["k", "v"]}], "mark": {"type": "tick", "clip": true, "color": "#1a1a1a", "thickness": 1.4, "size": 12},
   "encoding": {"x": {"field": "s", "type": "nominal", "axis": null}, "y": {"field": "v", "type": "quantitative", "axis": null}}},
  {"mark": {"type": "bar", "clip": true, "size": 26, "stroke": "#1a1a1a", "strokeWidth": 1.2},
   "encoding": {"x": {"field": "s", "type": "nominal", "axis": null},
    "y": {"field": "q1", "type": "quantitative", "axis": {"orient": "left", "values": [0.02,0.03,0.04,0.05,0.06,0.07,0.08,0.09,0.2,0.3,0.4,0.5,0.6,0.7,0.8,0.9], "labels": false, "tickSize": 6, "title": null}}, "y2": {"field": "q3"},
    "fill": {"condition": {"test": "datum.h == 1", "value": {"gradient":"linear","x1":0,"y1":0,"x2":1,"y2":1,"stops":[{"offset":0,"color":"#666600"},{"offset":0.065,"color":"#666600"},{"offset":0.065,"color":"#2b2b00"},{"offset":0.101,"color":"#2b2b00"},{"offset":0.101,"color":"#666600"},{"offset":0.232,"color":"#666600"},{"offset":0.232,"color":"#2b2b00"},{"offset":0.268,"color":"#2b2b00"},{"offset":0.268,"color":"#666600"},{"offset":0.399,"color":"#666600"},{"offset":0.399,"color":"#2b2b00"},{"offset":0.435,"color":"#2b2b00"},{"offset":0.435,"color":"#666600"},{"offset":0.565,"color":"#666600"},{"offset":0.565,"color":"#2b2b00"},{"offset":0.601,"color":"#2b2b00"},{"offset":0.601,"color":"#666600"},{"offset":0.732,"color":"#666600"},{"offset":0.732,"color":"#2b2b00"},{"offset":0.768,"color":"#2b2b00"},{"offset":0.768,"color":"#666600"},{"offset":0.899,"color":"#666600"},{"offset":0.899,"color":"#2b2b00"},{"offset":0.935,"color":"#2b2b00"},{"offset":0.935,"color":"#666600"},{"offset":1,"color":"#666600"}]}}, "value": "#666600"}}},
  {"mark": {"type": "tick", "clip": true, "color": "#eeeed8", "thickness": 1.6, "size": 25},
   "encoding": {"x": {"field": "s", "type": "nominal", "axis": null}, "y": {"field": "md", "type": "quantitative", "axis": {"orient": "right", "values": [0.1, 1], "labels": false, "tickSize": 9, "title": null}}}},
  {"mark": {"type": "point", "clip": true, "shape": "square", "size": 64, "filled": true, "fill": "#ffffff", "stroke": "#555555", "strokeWidth": 1},
   "encoding": {"x": {"field": "s", "type": "nominal", "axis": null}, "y": {"field": "mn", "type": "quantitative", "axis": {"orient": "right", "values": [0.02,0.03,0.04,0.05,0.06,0.07,0.08,0.09,0.2,0.3,0.4,0.5,0.6,0.7,0.8,0.9], "labels": false, "tickSize": 6, "title": null}}}},
  {"data": {"name": "out"}, "transform": [{"filter": "datum.p == 'eo'"}], "mark": {"type": "point", "clip": true, "shape": "diamond", "size": 26, "filled": true, "color": "#111111"},
   "encoding": {"x": {"field": "s", "type": "nominal", "axis": null}, "y": {"field": "v", "type": "quantitative", "axis": null}}},
  {"data": {"name": "lab"}, "transform": [{"filter": "datum.p == 'eo'"}], "mark": {"type": "text", "align": "left", "baseline": "middle", "fontSize": 23, "dx": -18, "color": "#111111"},
   "encoding": {"x": {"datum": "GRU", "type": "nominal", "axis": null}, "y": {"datum": 0.0203, "type": "quantitative", "axis": null}, "text": {"field": "t"}}}
 ],
 "resolve": {"axis": {"x": "independent", "y": "independent"}}},

{"width": 437, "height": 135.6, "data": {"name": "box"}, "transform": [{"filter": "datum.p == 'sr'"}],
 "layer": [
  {"mark": {"type": "rule", "clip": true, "color": "#1a1a1a", "strokeWidth": 1.4},
   "encoding": {"x": {"field": "s", "type": "nominal", "scale": {"type": "point", "domain": ["ALT","BAR","GRU","PAL","TIK","UTQ","VRS","ZEP"], "padding": 0.5}, "axis": {"labels": false, "tickSize": 7, "title": null}},
    "y": {"field": "lo", "type": "quantitative", "scale": {"type": "linear", "domain": [0.215, 1.055], "nice": false, "zero": false}, "axis": {"orient": "left", "values": [0.4, 0.6, 0.8, 1.0], "format": ".1f", "tickSize": 9, "title": null}},
    "y2": {"field": "hi"}}},
  {"transform": [{"fold": ["lo", "hi"], "as": ["k", "v"]}], "mark": {"type": "tick", "clip": true, "color": "#1a1a1a", "thickness": 1.4, "size": 12},
   "encoding": {"x": {"field": "s", "type": "nominal", "axis": null}, "y": {"field": "v", "type": "quantitative", "axis": null}}},
  {"mark": {"type": "bar", "clip": true, "size": 26, "stroke": "#1a1a1a", "strokeWidth": 1.2},
   "encoding": {"x": {"field": "s", "type": "nominal", "axis": null},
    "y": {"field": "q1", "type": "quantitative", "axis": {"orient": "left", "values": [0.3, 0.5, 0.7, 0.9], "labels": false, "tickSize": 6, "title": null}}, "y2": {"field": "q3"},
    "fill": {"condition": {"test": "datum.h == 1", "value": {"gradient":"linear","x1":0,"y1":0,"x2":1,"y2":1,"stops":[{"offset":0,"color":"#ff4040"},{"offset":0.065,"color":"#ff4040"},{"offset":0.065,"color":"#802020"},{"offset":0.101,"color":"#802020"},{"offset":0.101,"color":"#ff4040"},{"offset":0.232,"color":"#ff4040"},{"offset":0.232,"color":"#802020"},{"offset":0.268,"color":"#802020"},{"offset":0.268,"color":"#ff4040"},{"offset":0.399,"color":"#ff4040"},{"offset":0.399,"color":"#802020"},{"offset":0.435,"color":"#802020"},{"offset":0.435,"color":"#ff4040"},{"offset":0.565,"color":"#ff4040"},{"offset":0.565,"color":"#802020"},{"offset":0.601,"color":"#802020"},{"offset":0.601,"color":"#ff4040"},{"offset":0.732,"color":"#ff4040"},{"offset":0.732,"color":"#802020"},{"offset":0.768,"color":"#802020"},{"offset":0.768,"color":"#ff4040"},{"offset":0.899,"color":"#ff4040"},{"offset":0.899,"color":"#802020"},{"offset":0.935,"color":"#802020"},{"offset":0.935,"color":"#ff4040"},{"offset":1,"color":"#ff4040"}]}}, "value": "#ff4040"}}},
  {"mark": {"type": "tick", "clip": true, "color": "#ffffff", "thickness": 1.6, "size": 25},
   "encoding": {"x": {"field": "s", "type": "nominal", "axis": null}, "y": {"field": "md", "type": "quantitative", "axis": {"orient": "right", "values": [0.4, 0.6, 0.8, 1.0], "labels": false, "tickSize": 9, "title": null}}}},
  {"mark": {"type": "point", "clip": true, "shape": "square", "size": 64, "filled": true, "fill": "#ffffff", "stroke": "#555555", "strokeWidth": 1},
   "encoding": {"x": {"field": "s", "type": "nominal", "axis": null}, "y": {"field": "mn", "type": "quantitative", "axis": {"orient": "right", "values": [0.3, 0.5, 0.7, 0.9], "labels": false, "tickSize": 6, "title": null}}}},
  {"data": {"name": "out"}, "transform": [{"filter": "datum.p == 'sr'"}], "mark": {"type": "point", "clip": true, "shape": "diamond", "size": 26, "filled": true, "color": "#111111"},
   "encoding": {"x": {"field": "s", "type": "nominal", "axis": null}, "y": {"field": "v", "type": "quantitative", "axis": null}}},
  {"data": {"name": "lab"}, "transform": [{"filter": "datum.p == 'sr'"}], "mark": {"type": "text", "align": "left", "baseline": "middle", "fontSize": 23, "dx": -18, "color": "#111111"},
   "encoding": {"x": {"datum": "GRU", "type": "nominal", "axis": null}, "y": {"datum": 0.315, "type": "quantitative", "axis": null}, "text": {"field": "t"}}}
 ],
 "resolve": {"axis": {"x": "independent", "y": "independent"}}},

{"width": 437, "height": 135.6, "data": {"name": "box"}, "transform": [{"filter": "datum.p == 'nh'"}],
 "layer": [
  {"mark": {"type": "rule", "clip": true, "color": "#1a1a1a", "strokeWidth": 1.4},
   "encoding": {"x": {"field": "s", "type": "nominal", "scale": {"type": "point", "domain": ["ALT","BAR","GRU","PAL","TIK","UTQ","VRS","ZEP"], "padding": 0.5}, "axis": {"labels": false, "tickSize": 7, "title": null}},
    "y": {"field": "lo", "type": "quantitative", "scale": {"type": "log", "domain": [0.00217, 0.873], "nice": false}, "axis": {"orient": "left", "values": [0.01, 0.1], "format": "~g", "tickSize": 9, "title": null}},
    "y2": {"field": "hi"}}},
  {"transform": [{"fold": ["lo", "hi"], "as": ["k", "v"]}], "mark": {"type": "tick", "clip": true, "color": "#1a1a1a", "thickness": 1.4, "size": 12},
   "encoding": {"x": {"field": "s", "type": "nominal", "axis": null}, "y": {"field": "v", "type": "quantitative", "axis": null}}},
  {"mark": {"type": "bar", "clip": true, "size": 26, "stroke": "#1a1a1a", "strokeWidth": 1.2},
   "encoding": {"x": {"field": "s", "type": "nominal", "axis": null},
    "y": {"field": "q1", "type": "quantitative", "axis": {"orient": "left", "values": [0.003,0.004,0.005,0.006,0.007,0.008,0.009,0.02,0.03,0.04,0.05,0.06,0.07,0.08,0.09,0.2,0.3,0.4,0.5,0.6,0.7,0.8], "labels": false, "tickSize": 6, "title": null}}, "y2": {"field": "q3"},
    "fill": {"condition": {"test": "datum.h == 1", "value": {"gradient":"linear","x1":0,"y1":0,"x2":1,"y2":1,"stops":[{"offset":0,"color":"#f26b6b"},{"offset":0.065,"color":"#f26b6b"},{"offset":0.065,"color":"#7a3030"},{"offset":0.101,"color":"#7a3030"},{"offset":0.101,"color":"#f26b6b"},{"offset":0.232,"color":"#f26b6b"},{"offset":0.232,"color":"#7a3030"},{"offset":0.268,"color":"#7a3030"},{"offset":0.268,"color":"#f26b6b"},{"offset":0.399,"color":"#f26b6b"},{"offset":0.399,"color":"#7a3030"},{"offset":0.435,"color":"#7a3030"},{"offset":0.435,"color":"#f26b6b"},{"offset":0.565,"color":"#f26b6b"},{"offset":0.565,"color":"#7a3030"},{"offset":0.601,"color":"#7a3030"},{"offset":0.601,"color":"#f26b6b"},{"offset":0.732,"color":"#f26b6b"},{"offset":0.732,"color":"#7a3030"},{"offset":0.768,"color":"#7a3030"},{"offset":0.768,"color":"#f26b6b"},{"offset":0.899,"color":"#f26b6b"},{"offset":0.899,"color":"#7a3030"},{"offset":0.935,"color":"#7a3030"},{"offset":0.935,"color":"#f26b6b"},{"offset":1,"color":"#f26b6b"}]}}, "value": "#f26b6b"}}},
  {"mark": {"type": "tick", "clip": true, "color": "#ffffff", "thickness": 1.6, "size": 25},
   "encoding": {"x": {"field": "s", "type": "nominal", "axis": null}, "y": {"field": "md", "type": "quantitative", "axis": {"orient": "right", "values": [0.01, 0.1], "labels": false, "tickSize": 9, "title": null}}}},
  {"mark": {"type": "point", "clip": true, "shape": "square", "size": 64, "filled": true, "fill": "#ffffff", "stroke": "#555555", "strokeWidth": 1},
   "encoding": {"x": {"field": "s", "type": "nominal", "axis": null}, "y": {"field": "mn", "type": "quantitative", "axis": {"orient": "right", "values": [0.003,0.004,0.005,0.006,0.007,0.008,0.009,0.02,0.03,0.04,0.05,0.06,0.07,0.08,0.09,0.2,0.3,0.4,0.5,0.6,0.7,0.8], "labels": false, "tickSize": 6, "title": null}}}},
  {"data": {"name": "out"}, "transform": [{"filter": "datum.p == 'nh'"}], "mark": {"type": "point", "clip": true, "shape": "diamond", "size": 26, "filled": true, "color": "#111111"},
   "encoding": {"x": {"field": "s", "type": "nominal", "axis": null}, "y": {"field": "v", "type": "quantitative", "axis": null}}},
  {"data": {"name": "lab"}, "transform": [{"filter": "datum.p == 'nh'"}], "mark": {"type": "text", "align": "left", "baseline": "middle", "fontSize": 23, "dx": 18, "color": "#111111"},
   "encoding": {"x": {"datum": "ALT", "type": "nominal", "axis": null}, "y": {"datum": 0.00475, "type": "quantitative", "axis": null}, "text": {"field": "t"}}}
 ],
 "resolve": {"axis": {"x": "independent", "y": "independent"}}},

{"width": 437, "height": 135.6, "data": {"name": "box"}, "transform": [{"filter": "datum.p == 'on'"}],
 "layer": [
  {"mark": {"type": "rule", "clip": true, "color": "#1a1a1a", "strokeWidth": 1.4},
   "encoding": {"x": {"field": "s", "type": "nominal", "scale": {"type": "point", "domain": ["ALT","BAR","GRU","PAL","TIK","UTQ","VRS","ZEP"], "padding": 0.5}, "axis": {"labels": false, "tickSize": 7, "title": null}},
    "y": {"field": "lo", "type": "quantitative", "scale": {"type": "log", "domain": [0.0526, 4.15], "nice": false}, "axis": {"orient": "left", "values": [0.1, 1], "format": "~g", "tickSize": 9, "title": null}},
    "y2": {"field": "hi"}}},
  {"transform": [{"fold": ["lo", "hi"], "as": ["k", "v"]}], "mark": {"type": "tick", "clip": true, "color": "#1a1a1a", "thickness": 1.4, "size": 12},
   "encoding": {"x": {"field": "s", "type": "nominal", "axis": null}, "y": {"field": "v", "type": "quantitative", "axis": null}}},
  {"mark": {"type": "bar", "clip": true, "size": 26, "stroke": "#1a1a1a", "strokeWidth": 1.2},
   "encoding": {"x": {"field": "s", "type": "nominal", "axis": null},
    "y": {"field": "q1", "type": "quantitative", "axis": {"orient": "left", "values": [0.06,0.07,0.08,0.09,0.2,0.3,0.4,0.5,0.6,0.7,0.8,0.9,2,3,4], "labels": false, "tickSize": 6, "title": null}}, "y2": {"field": "q3"},
    "fill": {"condition": {"test": "datum.h == 1", "value": {"gradient":"linear","x1":0,"y1":0,"x2":1,"y2":1,"stops":[{"offset":0,"color":"#00cc00"},{"offset":0.065,"color":"#00cc00"},{"offset":0.065,"color":"#005c00"},{"offset":0.101,"color":"#005c00"},{"offset":0.101,"color":"#00cc00"},{"offset":0.232,"color":"#00cc00"},{"offset":0.232,"color":"#005c00"},{"offset":0.268,"color":"#005c00"},{"offset":0.268,"color":"#00cc00"},{"offset":0.399,"color":"#00cc00"},{"offset":0.399,"color":"#005c00"},{"offset":0.435,"color":"#005c00"},{"offset":0.435,"color":"#00cc00"},{"offset":0.565,"color":"#00cc00"},{"offset":0.565,"color":"#005c00"},{"offset":0.601,"color":"#005c00"},{"offset":0.601,"color":"#00cc00"},{"offset":0.732,"color":"#00cc00"},{"offset":0.732,"color":"#005c00"},{"offset":0.768,"color":"#005c00"},{"offset":0.768,"color":"#00cc00"},{"offset":0.899,"color":"#00cc00"},{"offset":0.899,"color":"#005c00"},{"offset":0.935,"color":"#005c00"},{"offset":0.935,"color":"#00cc00"},{"offset":1,"color":"#00cc00"}]}}, "value": "#00cc00"}}},
  {"mark": {"type": "tick", "clip": true, "color": "#1a1a1a", "thickness": 1.6, "size": 25},
   "encoding": {"x": {"field": "s", "type": "nominal", "axis": null}, "y": {"field": "md", "type": "quantitative", "axis": {"orient": "right", "values": [0.1, 1], "labels": false, "tickSize": 9, "title": null}}}},
  {"mark": {"type": "point", "clip": true, "shape": "square", "size": 64, "filled": true, "fill": "#ffffff", "stroke": "#555555", "strokeWidth": 1},
   "encoding": {"x": {"field": "s", "type": "nominal", "axis": null}, "y": {"field": "mn", "type": "quantitative", "axis": {"orient": "right", "values": [0.06,0.07,0.08,0.09,0.2,0.3,0.4,0.5,0.6,0.7,0.8,0.9,2,3,4], "labels": false, "tickSize": 6, "title": null}}}},
  {"data": {"name": "out"}, "transform": [{"filter": "datum.p == 'on'"}], "mark": {"type": "point", "clip": true, "shape": "diamond", "size": 26, "filled": true, "color": "#111111"},
   "encoding": {"x": {"field": "s", "type": "nominal", "axis": null}, "y": {"field": "v", "type": "quantitative", "axis": null}}},
  {"data": {"name": "lab"}, "transform": [{"filter": "datum.p == 'on'"}], "mark": {"type": "text", "align": "left", "baseline": "middle", "fontSize": 23, "dx": -23, "color": "#111111"},
   "encoding": {"x": {"datum": "GRU", "type": "nominal", "axis": null}, "y": {"datum": 0.0938, "type": "quantitative", "axis": null}, "text": {"field": "t"}}}
 ],
 "resolve": {"axis": {"x": "independent", "y": "independent"}}},

{"width": 437, "height": 135.6, "data": {"name": "box"}, "transform": [{"filter": "datum.p == 'ms'"}],
 "layer": [
  {"mark": {"type": "rule", "clip": true, "color": "#1a1a1a", "strokeWidth": 1.4},
   "encoding": {"x": {"field": "s", "type": "nominal", "scale": {"type": "point", "domain": ["ALT","BAR","GRU","PAL","TIK","UTQ","VRS","ZEP"], "padding": 0.5}, "axis": {"labels": false, "tickSize": 7, "title": null}},
    "y": {"field": "lo", "type": "quantitative", "scale": {"type": "log", "domain": [0.000038, 2.03], "nice": false}, "axis": {"orient": "left", "values": [0.0001, 0.001, 0.01, 0.1, 1], "labelExpr": "datum.value < 0.0005 ? '1E-4' : format(datum.value, '~g')", "tickSize": 9, "title": null}},
    "y2": {"field": "hi"}}},
  {"transform": [{"fold": ["lo", "hi"], "as": ["k", "v"]}], "mark": {"type": "tick", "clip": true, "color": "#1a1a1a", "thickness": 1.4, "size": 12},
   "encoding": {"x": {"field": "s", "type": "nominal", "axis": null}, "y": {"field": "v", "type": "quantitative", "axis": null}}},
  {"mark": {"type": "bar", "clip": true, "size": 26, "stroke": "#1a1a1a", "strokeWidth": 1.2},
   "encoding": {"x": {"field": "s", "type": "nominal", "axis": null},
    "y": {"field": "q1", "type": "quantitative", "axis": {"orient": "left", "values": [0.00004,0.00005,0.00006,0.00007,0.00008,0.00009,0.0002,0.0003,0.0004,0.0005,0.0006,0.0007,0.0008,0.0009,0.002,0.003,0.004,0.005,0.006,0.007,0.008,0.009,0.02,0.03,0.04,0.05,0.06,0.07,0.08,0.09,0.2,0.3,0.4,0.5,0.6,0.7,0.8,0.9,2], "labels": false, "tickSize": 6, "title": null}}, "y2": {"field": "q3"},
    "fill": {"condition": {"test": "datum.h == 1", "value": {"gradient":"linear","x1":0,"y1":0,"x2":1,"y2":1,"stops":[{"offset":0,"color":"#e066ee"},{"offset":0.065,"color":"#e066ee"},{"offset":0.065,"color":"#6a2a72"},{"offset":0.101,"color":"#6a2a72"},{"offset":0.101,"color":"#e066ee"},{"offset":0.232,"color":"#e066ee"},{"offset":0.232,"color":"#6a2a72"},{"offset":0.268,"color":"#6a2a72"},{"offset":0.268,"color":"#e066ee"},{"offset":0.399,"color":"#e066ee"},{"offset":0.399,"color":"#6a2a72"},{"offset":0.435,"color":"#6a2a72"},{"offset":0.435,"color":"#e066ee"},{"offset":0.565,"color":"#e066ee"},{"offset":0.565,"color":"#6a2a72"},{"offset":0.601,"color":"#6a2a72"},{"offset":0.601,"color":"#e066ee"},{"offset":0.732,"color":"#e066ee"},{"offset":0.732,"color":"#6a2a72"},{"offset":0.768,"color":"#6a2a72"},{"offset":0.768,"color":"#e066ee"},{"offset":0.899,"color":"#e066ee"},{"offset":0.899,"color":"#6a2a72"},{"offset":0.935,"color":"#6a2a72"},{"offset":0.935,"color":"#e066ee"},{"offset":1,"color":"#e066ee"}]}}, "value": "#e066ee"}}},
  {"mark": {"type": "tick", "clip": true, "color": "#ffffff", "thickness": 1.6, "size": 25},
   "encoding": {"x": {"field": "s", "type": "nominal", "axis": null}, "y": {"field": "md", "type": "quantitative", "axis": {"orient": "right", "values": [0.0001, 0.001, 0.01, 0.1, 1], "labels": false, "tickSize": 9, "title": null}}}},
  {"mark": {"type": "point", "clip": true, "shape": "square", "size": 64, "filled": true, "fill": "#ffffff", "stroke": "#555555", "strokeWidth": 1},
   "encoding": {"x": {"field": "s", "type": "nominal", "axis": null}, "y": {"field": "mn", "type": "quantitative", "axis": {"orient": "right", "values": [0.00004,0.00005,0.00006,0.00007,0.00008,0.00009,0.0002,0.0003,0.0004,0.0005,0.0006,0.0007,0.0008,0.0009,0.002,0.003,0.004,0.005,0.006,0.007,0.008,0.009,0.02,0.03,0.04,0.05,0.06,0.07,0.08,0.09,0.2,0.3,0.4,0.5,0.6,0.7,0.8,0.9,2], "labels": false, "tickSize": 6, "title": null}}}},
  {"data": {"name": "out"}, "transform": [{"filter": "datum.p == 'ms'"}], "mark": {"type": "point", "clip": true, "shape": "diamond", "size": 26, "filled": true, "color": "#111111"},
   "encoding": {"x": {"field": "s", "type": "nominal", "axis": null}, "y": {"field": "v", "type": "quantitative", "axis": null}}},
  {"data": {"name": "lab"}, "transform": [{"filter": "datum.p == 'ms'"}], "mark": {"type": "text", "align": "left", "baseline": "middle", "fontSize": 23, "dx": -23, "color": "#111111"},
   "encoding": {"x": {"datum": "GRU", "type": "nominal", "axis": null}, "y": {"datum": 0.000135, "type": "quantitative", "axis": null}, "text": {"field": "t"}}}
 ],
 "resolve": {"axis": {"x": "independent", "y": "independent"}}},

{"width": 437, "height": 135.6, "data": {"name": "box"}, "transform": [{"filter": "datum.p == 'an'"}],
 "layer": [
  {"mark": {"type": "rule", "clip": true, "color": "#1a1a1a", "strokeWidth": 1.4},
   "encoding": {"x": {"field": "s", "type": "nominal", "scale": {"type": "point", "domain": ["ALT","BAR","GRU","PAL","TIK","UTQ","VRS","ZEP"], "padding": 0.5}, "axis": {"labels": true, "tickSize": 7, "labelFontSize": 18, "labelPadding": 7, "labelAngle": 0, "title": null}},
    "y": {"field": "lo", "type": "quantitative", "scale": {"type": "linear", "domain": [0.012, 1.048], "nice": false, "zero": false}, "axis": {"orient": "left", "values": [0.3, 0.6, 0.9], "format": ".1f", "tickSize": 9, "title": null}},
    "y2": {"field": "hi"}}},
  {"transform": [{"fold": ["lo", "hi"], "as": ["k", "v"]}], "mark": {"type": "tick", "clip": true, "color": "#1a1a1a", "thickness": 1.4, "size": 12},
   "encoding": {"x": {"field": "s", "type": "nominal", "axis": null}, "y": {"field": "v", "type": "quantitative", "axis": null}}},
  {"mark": {"type": "bar", "clip": true, "size": 26, "stroke": "#1a1a1a", "strokeWidth": 1.2},
   "encoding": {"x": {"field": "s", "type": "nominal", "axis": null},
    "y": {"field": "q1", "type": "quantitative", "axis": {"orient": "left", "values": [0.15, 0.45, 0.75], "labels": false, "tickSize": 6, "title": null}}, "y2": {"field": "q3"},
    "fill": {"condition": {"test": "datum.h == 1", "value": {"gradient":"linear","x1":0,"y1":0,"x2":1,"y2":1,"stops":[{"offset":0,"color":"#8395f2"},{"offset":0.065,"color":"#8395f2"},{"offset":0.065,"color":"#3a4478"},{"offset":0.101,"color":"#3a4478"},{"offset":0.101,"color":"#8395f2"},{"offset":0.232,"color":"#8395f2"},{"offset":0.232,"color":"#3a4478"},{"offset":0.268,"color":"#3a4478"},{"offset":0.268,"color":"#8395f2"},{"offset":0.399,"color":"#8395f2"},{"offset":0.399,"color":"#3a4478"},{"offset":0.435,"color":"#3a4478"},{"offset":0.435,"color":"#8395f2"},{"offset":0.565,"color":"#8395f2"},{"offset":0.565,"color":"#3a4478"},{"offset":0.601,"color":"#3a4478"},{"offset":0.601,"color":"#8395f2"},{"offset":0.732,"color":"#8395f2"},{"offset":0.732,"color":"#3a4478"},{"offset":0.768,"color":"#3a4478"},{"offset":0.768,"color":"#8395f2"},{"offset":0.899,"color":"#8395f2"},{"offset":0.899,"color":"#3a4478"},{"offset":0.935,"color":"#3a4478"},{"offset":0.935,"color":"#8395f2"},{"offset":1,"color":"#8395f2"}]}}, "value": "#8395f2"}}},
  {"mark": {"type": "tick", "clip": true, "color": "#1a1a1a", "thickness": 1.6, "size": 25},
   "encoding": {"x": {"field": "s", "type": "nominal", "axis": null}, "y": {"field": "md", "type": "quantitative", "axis": {"orient": "right", "values": [0.3, 0.6, 0.9], "labels": false, "tickSize": 9, "title": null}}}},
  {"mark": {"type": "point", "clip": true, "shape": "square", "size": 64, "filled": true, "fill": "#ffffff", "stroke": "#555555", "strokeWidth": 1},
   "encoding": {"x": {"field": "s", "type": "nominal", "axis": null}, "y": {"field": "mn", "type": "quantitative", "axis": {"orient": "right", "values": [0.15, 0.45, 0.75], "labels": false, "tickSize": 6, "title": null}}}},
  {"data": {"name": "out"}, "transform": [{"filter": "datum.p == 'an'"}], "mark": {"type": "point", "clip": true, "shape": "diamond", "size": 26, "filled": true, "color": "#111111"},
   "encoding": {"x": {"field": "s", "type": "nominal", "axis": null}, "y": {"field": "v", "type": "quantitative", "axis": null}}},
  {"data": {"name": "lab"}, "transform": [{"filter": "datum.p == 'an'"}], "mark": {"type": "text", "align": "left", "baseline": "middle", "fontSize": 23, "dx": -15, "color": "#111111"},
   "encoding": {"x": {"datum": "ALT", "type": "nominal", "axis": null}, "y": {"datum": 0.172, "type": "quantitative", "axis": null}, "text": {"field": "t"}}}
 ],
 "resolve": {"axis": {"x": "independent", "y": "independent"}}}
]
}
],
"spacing": 22
},
{
"width": 1100, "height": 120,
"view": {"stroke": null},
"data": {"name": "cap"},
"layer": [
 {"transform": [{"filter": "datum.k == 'b'"}], "mark": {"type": "text", "align": "left", "baseline": "middle", "font": "Liberation Serif", "fontSize": 21, "fontWeight": "bold", "dx": -92, "color": "#231f20"},
  "encoding": {"x": {"datum": 0, "type": "quantitative", "scale": {"domain": [0, 1]}, "axis": null}, "y": {"field": "l", "type": "ordinal", "scale": {"type": "point", "domain": [1,2,3,4,5], "padding": 0.5}, "axis": null}, "text": {"field": "t"}}},
 {"transform": [{"filter": "datum.k == 'f'"}], "mark": {"type": "text", "align": "left", "baseline": "middle", "font": "Liberation Serif", "fontSize": 21, "dx": -6, "color": "#231f20"},
  "encoding": {"x": {"datum": 0, "type": "quantitative", "axis": null}, "y": {"field": "l", "type": "ordinal", "axis": null}, "text": {"field": "t"}}},
 {"transform": [{"filter": "datum.k == 'n'"}], "mark": {"type": "text", "align": "left", "baseline": "middle", "font": "Liberation Serif", "fontSize": 21, "dx": -92, "color": "#231f20"},
  "encoding": {"x": {"datum": 0, "type": "quantitative", "axis": null}, "y": {"field": "l", "type": "ordinal", "axis": null}, "text": {"field": "t"}}}
]
}
],
"spacing": 28
}
